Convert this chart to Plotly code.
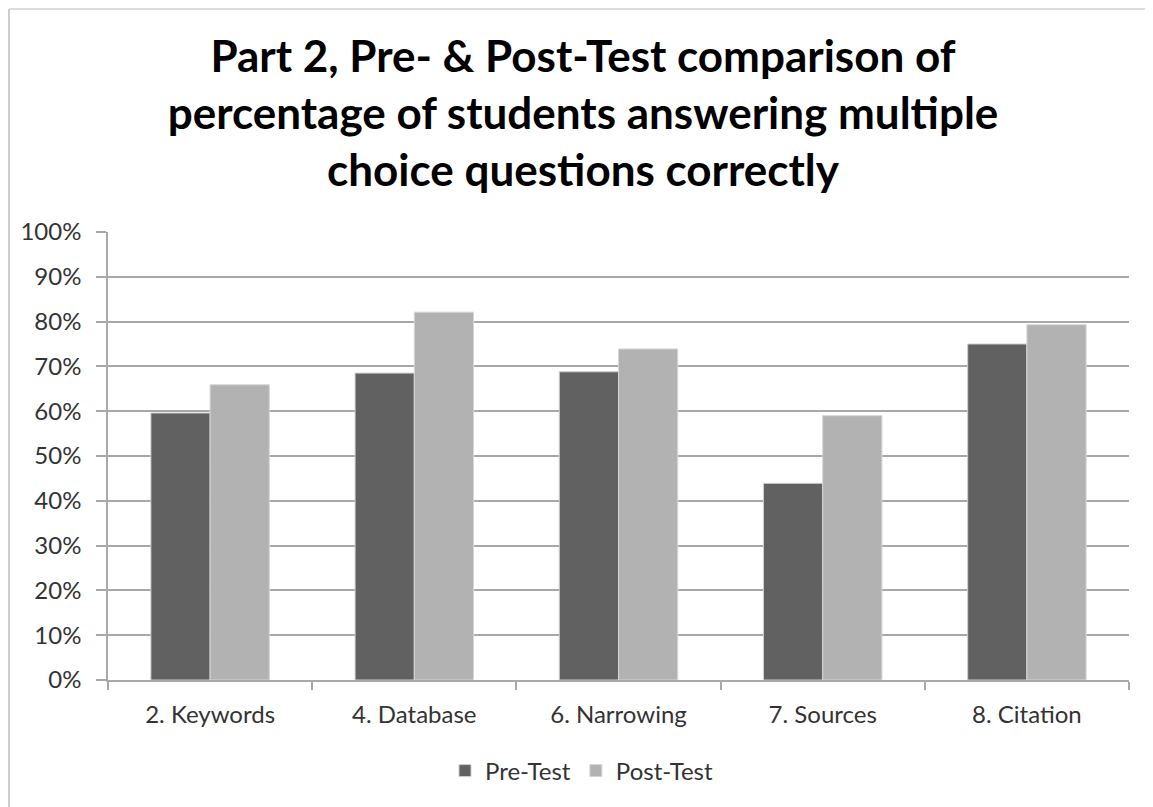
import plotly.graph_objects as go

categories = ["2. Keywords", "4. Database", "6. Narrowing", "7. Sources", "8. Citation"]
pre_test = [59.6, 68.5, 68.8, 43.9, 75.0]
post_test = [65.9, 82.1, 73.9, 59.0, 79.3]
y_ticks = [0, 10, 20, 30, 40, 50, 60, 70, 80, 90, 100]
y_tick_labels = [f"{v}%" for v in y_ticks]

title_text = ("Part 2, Pre- &amp; Post-Test comparison of<br>"
              "percentage of students answering multiple<br>"
              "choice questions correctly")

FONT = "Lato, Open Sans, sans-serif"
W, H = 1145, 799
L, R, T, B = 100, 24, 224, 127
PW, PH = W - L - R, H - T - B

fig = go.Figure()
fig.add_trace(go.Bar(name="Pre-Test", x=categories, y=pre_test,
                     marker=dict(color="#616161", line=dict(color="#cfcfcf", width=1))))
fig.add_trace(go.Bar(name="Post-Test", x=categories, y=post_test,
                     marker=dict(color="#b2b2b2", line=dict(color="#d6d6d6", width=1))))

grid = "#a8a8a8"
fig.update_layout(
    width=W, height=H,
    margin=dict(l=L, r=R, t=T, b=B),
    paper_bgcolor="white", plot_bgcolor="white",
    barmode="group", bargap=0.42, bargroupgap=0,
    font=dict(family=FONT, size=24, color="#333333"),
    title=dict(text=title_text, x=575 / W, xref="container", xanchor="center",
               y=1 - 64 / H, yref="container", yanchor="middle",
               font=dict(family=FONT, size=44, color="#000000", weight="bold")),
    legend=dict(orientation="h", x=(574 - L) / PW, xanchor="center",
                y=(PH - (763 - T)) / PH, yanchor="middle",
                font=dict(family=FONT, size=24, color="#333333"), traceorder="normal",
                itemwidth=30),
    showlegend=True,
)
fig.update_xaxes(showline=True, linecolor=grid, linewidth=1.5,
                 ticks="outside", tickson="boundaries", ticklen=8, tickcolor=grid,
                 tickwidth=1.5, showgrid=False, ticklabelstandoff=12,
                 tickfont=dict(family=FONT, size=24, color="#333333"))
fig.update_yaxes(range=[0, 100], tickmode="array", tickvals=y_ticks, ticktext=y_tick_labels,
                 showline=True, linecolor=grid, linewidth=1.5,
                 ticks="outside", ticklen=10, tickcolor=grid, tickwidth=1.5,
                 showgrid=True, gridcolor=grid, gridwidth=1.5, zeroline=False,
                 ticklabelstandoff=10,
                 tickfont=dict(family=FONT, size=24, color="#333333"))

# outer chart border (left and top edges visible)
bx = (1 - L) / PW
by = (PH - (1 - T)) / PH
fig.add_shape(type="line", xref="paper", yref="paper",
              x0=bx, x1=bx, y0=-0.4, y1=by,
              line=dict(color="#bdbdbd", width=1.5))
fig.add_shape(type="line", xref="paper", yref="paper",
              x0=bx, x1=1.1, y0=by, y1=by,
              line=dict(color="#d0d0d0", width=1.5))

fig.write_html("out.html")
